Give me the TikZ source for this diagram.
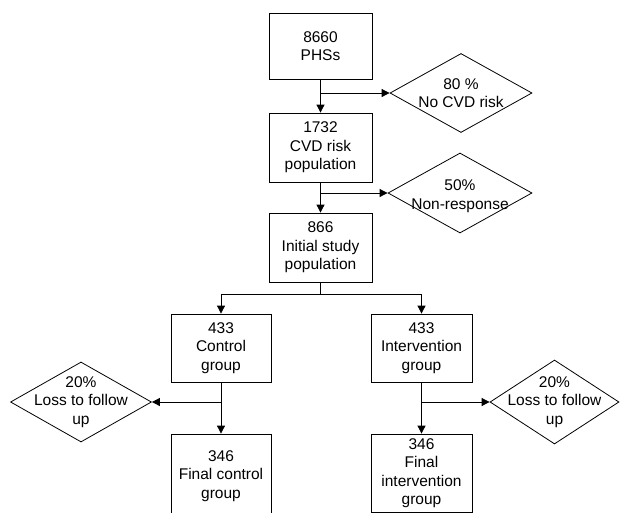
\documentclass[tikz,border=0pt]{standalone}
\usepackage{fontspec}
\setmainfont{Liberation Sans}
\usetikzlibrary{shapes.geometric,arrows.meta}
\begin{document}
\begin{tikzpicture}[x=1pt,y=-1pt,
  font=\fontsize{15.5}{18.5}\selectfont,
  box/.style={draw, line width=0.8pt, rectangle, inner sep=0pt, align=center},
  dia/.style={draw, line width=0.8pt, diamond, inner sep=0pt},
  txt/.style={align=center, inner sep=0pt},
  conn/.style={line width=0.8pt},
  arr/.style={line width=0.8pt, -{Triangle[length=8pt,width=8pt]}}]
\useasboundingbox (0,0) rectangle (621,512);
\clip (0,0) rectangle (621,512);
% boxes
\node[box, minimum width=103pt, minimum height=66pt] (b1) at (320.5,46) {8660\\PHSs};
\node[box, minimum width=103pt, minimum height=69pt] (b2) at (320.5,147.5) {1732\\CVD risk\\population};
\node[box, minimum width=103pt, minimum height=69pt] (b3) at (320.5,247.5) {866\\Initial study\\population};
\node[box, minimum width=100pt, minimum height=68pt] (b4) at (221,348) {433\\Control\\group};
\node[box, minimum width=101pt, minimum height=68pt] (b5) at (421.5,348) {433\\Intervention\\group};
\node[box, minimum width=100pt, minimum height=84pt] (b6) at (221,476) {346\\Final control\\group};
\node[box, minimum width=101pt, minimum height=78pt] (b7) at (421.5,473) {346\\Final\\intervention\\group};
% diamonds
\node[dia, minimum width=142pt, minimum height=79pt] (d1) at (461,93) {};
\node[txt] (t1) at (d1) {80 \%\\No CVD risk};
\node[dia, minimum width=144pt, minimum height=80pt] (d2) at (460,193) {};
\node[txt] (t2) at ([yshift=-3pt]d2.center) {50\%\\Non-response};
\node[dia, minimum width=141pt, minimum height=80pt] (d3) at (81,402) {};
\node[txt] (t3) at (d3) {20\%\\Loss to follow\\up};
\node[dia, minimum width=129pt, minimum height=84pt] (d4) at (554.5,402) {};
\node[txt] (t4) at (d4) {20\%\\Loss to follow\\up};
% connectors
\draw[arr] (b1.south) -- (b2.north);
\draw[arr] (b1.south |- d1.west) -- (d1.west);
\draw[arr] (b2.south) -- (b3.north);
\draw[arr] (b2.south |- d2.west) -- (d2.west);
\coordinate (s) at (320.5,294.3);
\draw[conn] (b3.south) -- (s);
\draw[arr] (s) -| (b4.north);
\draw[arr] (s) -| (b5.north);
\draw[arr] (b4.south) -- (b6.north);
\draw[arr] (b4.south |- d3.east) -- (d3.east);
\draw[arr] (b5.south) -- (b7.north);
\draw[arr] (b5.south |- d4.west) -- (d4.west);
\end{tikzpicture}
\end{document}
